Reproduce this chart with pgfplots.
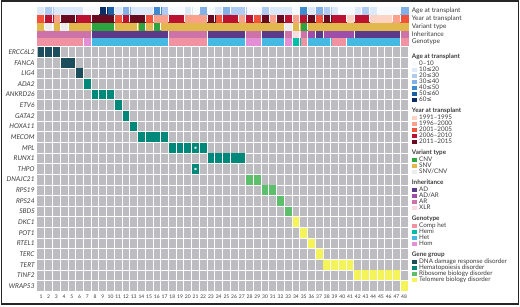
\documentclass[border=0pt]{standalone}
\usepackage{pgfplots}
\pgfplotsset{compat=1.18}
\usepackage{fontspec}
\setmainfont{Lato}
\newfontfamily\symfont{DejaVu Sans}
\definecolor{gridgray}{HTML}{BDBCC1}
\definecolor{txt}{HTML}{3A3A3A}
\definecolor{ag0}{HTML}{F7FBFF}
\definecolor{ag1}{HTML}{DCE9FA}
\definecolor{ag2}{HTML}{AECCF2}
\definecolor{ag3}{HTML}{82B1E6}
\definecolor{ag4}{HTML}{3E8BD0}
\definecolor{ag5}{HTML}{1A5FA6}
\definecolor{ag6}{HTML}{0A2D66}
\definecolor{yr0}{HTML}{FDD3C4}
\definecolor{yr1}{HTML}{FBA08A}
\definecolor{yr2}{HTML}{F2513C}
\definecolor{yr3}{HTML}{BA1230}
\definecolor{yr4}{HTML}{6A0A20}
\definecolor{vt0}{HTML}{2CA53F}
\definecolor{vt1}{HTML}{E0B84C}
\definecolor{vt2}{HTML}{EDEDED}
\definecolor{ih0}{HTML}{5B3A8B}
\definecolor{ih1}{HTML}{9D4EAA}
\definecolor{ih2}{HTML}{CE72AA}
\definecolor{ih3}{HTML}{FADBDF}
\definecolor{gt0}{HTML}{F092A2}
\definecolor{gt1}{HTML}{00BFAA}
\definecolor{gt2}{HTML}{46B9E2}
\definecolor{gt3}{HTML}{E38FD8}
\definecolor{gg0}{HTML}{1C4D5C}
\definecolor{gg1}{HTML}{00897A}
\definecolor{gg2}{HTML}{5DBF6B}
\definecolor{gg3}{HTML}{F4F45A}
\pgfplotsset{
  trk/.style={forget plot, only marks, color=#1, mark=square*, mark size=3.75pt,
    mark options={xscale=1.03, yscale=0.915, draw=#1, fill=#1, line width=0.1pt}},
  sep/.style={forget plot, only marks, mark=|, mark size=3.55pt, white,
    mark options={line width=0.7pt}},
  cell/.style={forget plot, only marks, color=#1, mark=square*, mark size=3.42pt,
    mark options={yscale=1.425, fill=#1, draw opacity=0}},
  sq/.style={legend image code/.code={\fill[##1, draw=none] (0pt,-2.4pt) rectangle (4.8pt,2.4pt);}},
}
\begin{document}
\begin{tikzpicture}
\path[use as bounding box] (0,0) rectangle (520pt,307pt);
% ---------------- annotation tracks
\begin{axis}[
  at={(37.1pt,261.1pt)}, anchor=south west,
  scale only axis, width=370.9pt, height=39.3pt,
  xmin=0.5, xmax=48.5, ymin=0.5, ymax=5.5, y dir=reverse,
  axis line style={draw=none}, major tick length=0pt, xtick=\empty,
  ytick={1,2,3,4,5},
  yticklabels={Age at transplant, Year at transplant, Variant type, Inheritance, Genotype},
  yticklabel pos=right,
  yticklabel style={font=\fontsize{6.5}{7}\selectfont, text=txt, anchor=west, inner sep=0pt, xshift=3.6pt},
]
% Age at transplant
\addplot[trk=ag0] coordinates {(7,1) (8,1) (18,1) (19,1) (21,1) (23,1) (28,1) (29,1) (34,1) (40,1) (41,1) (45,1) (46,1) (47,1)};
\addplot[trk=ag1] coordinates {(1,1) (3,1) (4,1) (5,1) (6,1) (11,1) (13,1) (14,1) (15,1) (20,1) (24,1) (31,1) (32,1) (33,1) (36,1) (39,1) (42,1) (44,1)};
\addplot[trk=ag2] coordinates {(2,1) (17,1) (26,1) (27,1) (30,1) (38,1) (43,1)};
\addplot[trk=ag3] coordinates {(12,1) (22,1) (25,1) (37,1) (48,1)};
\addplot[trk=ag4] coordinates {(16,1) (35,1)};
\addplot[trk=ag5] coordinates {(10,1)};
\addplot[trk=ag6] coordinates {(9,1)};
% Year at transplant
\addplot[trk=yr0] coordinates {(41,2) (44,2) (45,2) (46,2)};
\addplot[trk=yr1] coordinates {(3,2) (16,2) (17,2) (20,2) (21,2) (22,2) (27,2) (31,2) (34,2) (47,2)};
\addplot[trk=yr2] coordinates {(1,2) (11,2) (15,2) (24,2) (29,2) (37,2) (48,2)};
\addplot[trk=yr3] coordinates {(2,2) (6,2) (7,2) (12,2) (18,2) (19,2) (25,2) (26,2) (28,2) (33,2) (35,2) (39,2) (40,2) (42,2) (43,2)};
\addplot[trk=yr4] coordinates {(4,2) (5,2) (8,2) (9,2) (10,2) (13,2) (14,2) (23,2) (30,2) (32,2) (36,2) (38,2)};
% Variant type
\addplot[trk=vt0] coordinates {(8,3) (9,3) (10,3) (14,3) (16,3) (35,3)};
\addplot[trk=vt1] coordinates {(1,3) (3,3) (5,3) (6,3) (7,3) (11,3) (12,3) (13,3) (15,3) (17,3) (18,3) (19,3) (20,3) (21,3) (22,3) (23,3) (24,3) (25,3) (26,3) (27,3) (28,3) (29,3) (30,3) (31,3) (32,3) (34,3) (36,3) (37,3) (38,3) (39,3) (40,3) (41,3) (42,3) (43,3) (44,3) (45,3) (46,3) (47,3) (48,3)};
\addplot[trk=vt2] coordinates {(2,3) (4,3) (33,3)};
% Inheritance
\addplot[trk=ih0] coordinates {(8,4) (9,4) (10,4) (11,4) (12,4) (13,4) (14,4) (15,4) (16,4) (17,4) (23,4) (24,4) (25,4) (26,4) (27,4) (30,4) (31,4) (32,4) (37,4) (42,4) (43,4) (44,4) (45,4) (46,4) (47,4)};
\addplot[trk=ih1] coordinates {(36,4) (38,4) (39,4) (40,4) (41,4)};
\addplot[trk=ih2] coordinates {(1,4) (2,4) (3,4) (4,4) (5,4) (6,4) (7,4) (18,4) (19,4) (20,4) (21,4) (22,4) (28,4) (29,4) (33,4) (35,4) (48,4)};
\addplot[trk=ih3] coordinates {(34,4)};
% Genotype
\addplot[trk=gt0] coordinates {(1,5) (2,5) (3,5) (4,5) (5,5) (6,5) (18,5) (19,5) (20,5) (21,5) (22,5) (35,5) (39,5) (40,5) (48,5)};
\addplot[trk=gt1] coordinates {(34,5)};
\addplot[trk=gt2] coordinates {(8,5) (9,5) (10,5) (11,5) (12,5) (13,5) (14,5) (15,5) (16,5) (17,5) (23,5) (24,5) (25,5) (26,5) (27,5) (30,5) (31,5) (32,5) (36,5) (37,5) (38,5) (41,5) (42,5) (43,5) (44,5) (45,5) (46,5) (47,5)};
\addplot[trk=gt3] coordinates {(7,5) (28,5) (29,5) (33,5)};
% thin white separators where a track changes value
\addplot[sep] coordinates {(1.5,1) (2.5,1) (6.5,1) (8.5,1) (9.5,1) (10.5,1) (11.5,1) (12.5,1) (15.5,1) (16.5,1) (17.5,1) (19.5,1) (20.5,1) (21.5,1) (22.5,1) (23.5,1) (24.5,1) (25.5,1) (27.5,1) (29.5,1) (30.5,1) (33.5,1) (34.5,1) (35.5,1) (36.5,1) (37.5,1) (38.5,1) (39.5,1) (41.5,1) (42.5,1) (43.5,1) (44.5,1) (47.5,1)};
\addplot[sep] coordinates {(1.5,2) (2.5,2) (3.5,2) (5.5,2) (7.5,2) (10.5,2) (11.5,2) (12.5,2) (14.5,2) (15.5,2) (17.5,2) (19.5,2) (22.5,2) (23.5,2) (24.5,2) (26.5,2) (27.5,2) (28.5,2) (29.5,2) (30.5,2) (31.5,2) (32.5,2) (33.5,2) (34.5,2) (35.5,2) (36.5,2) (37.5,2) (38.5,2) (40.5,2) (41.5,2) (43.5,2) (46.5,2) (47.5,2)};
\addplot[sep] coordinates {(1.5,3) (2.5,3) (3.5,3) (4.5,3) (7.5,3) (10.5,3) (13.5,3) (14.5,3) (15.5,3) (16.5,3) (32.5,3) (33.5,3) (34.5,3) (35.5,3)};
\addplot[sep] coordinates {(7.5,4) (17.5,4) (22.5,4) (27.5,4) (29.5,4) (32.5,4) (33.5,4) (34.5,4) (35.5,4) (36.5,4) (37.5,4) (41.5,4) (47.5,4)};
\addplot[sep] coordinates {(6.5,5) (7.5,5) (17.5,5) (22.5,5) (27.5,5) (29.5,5) (32.5,5) (33.5,5) (34.5,5) (35.5,5) (38.5,5) (40.5,5) (47.5,5)};
\end{axis}
% ---------------- gene grid
\begin{axis}[
  at={(37.1pt,15.7pt)}, anchor=south west,
  scale only axis, width=370.9pt, height=244.6pt,
  xmin=0.5, xmax=48.5, ymin=0.5, ymax=23.5, y dir=reverse,
  axis background/.style={fill=gridgray},
  axis line style={draw=none}, major tick length=0pt, minor tick length=0pt,
  xtick={1,...,48}, ytick={1,...,23},
  yticklabels={ERCC6L2,FANCA,LIG4,ADA2,ANKRD26,ETV6,GATA2,HOXA11,MECOM,MPL,RUNX1,THPO,DNAJC21,RPS19,RPS24,SBDS,DKC1,POT1,RTEL1,TERC,TERT,TINF2,WRAP53},
  yticklabel style={font=\fontsize{6.6}{7}\selectfont\itshape, text=txt, inner sep=0pt, xshift=-2.3pt},
  xticklabel style={font=\fontsize{5}{5}\selectfont, text=txt, inner sep=0pt, yshift=-3.2pt},
  /pgf/number format/assume math mode=true,
  minor xtick={1.5,2.5,...,47.5}, minor ytick={1.5,2.5,...,22.5},
  xminorgrids, yminorgrids, minor grid style={white, line width=0.9pt},
  axis on top,
  legend cell align=left,
  legend style={at={(1,1)}, anchor=north west, xshift=3.7pt, yshift=-7.6pt,
    draw=none, fill=none, inner sep=0pt, row sep=1pt, column sep=1.5pt,
    font=\fontsize{6.3}{6}\selectfont,
    nodes={inner xsep=1pt, inner ysep=0pt, text height=4pt, text depth=1pt, text=txt}},
]
\addlegendimage{empty legend}\addlegendentry[text depth=2pt]{\hspace*{-7.3pt}\textbf{Age at transplant}}
\addlegendimage{sq, fill=ag0}\addlegendentry{0–10}
\addlegendimage{sq, fill=ag1}\addlegendentry{10{\symfont ≤}20}
\addlegendimage{sq, fill=ag2}\addlegendentry{20{\symfont ≤}30}
\addlegendimage{sq, fill=ag3}\addlegendentry{30{\symfont ≤}40}
\addlegendimage{sq, fill=ag4}\addlegendentry{40{\symfont ≤}50}
\addlegendimage{sq, fill=ag5}\addlegendentry{50{\symfont ≤}60}
\addlegendimage{sq, fill=ag6}\addlegendentry{60{\symfont ≤}}
\addlegendimage{empty legend}\addlegendentry[text height=2.5pt, text depth=1.5pt]{}
\addlegendimage{empty legend}\addlegendentry[text depth=2pt]{\hspace*{-7.3pt}\textbf{Year at transplant}}
\addlegendimage{sq, fill=yr0}\addlegendentry{1991–1995}
\addlegendimage{sq, fill=yr1}\addlegendentry{1996–2000}
\addlegendimage{sq, fill=yr2}\addlegendentry{2001–2005}
\addlegendimage{sq, fill=yr3}\addlegendentry{2006–2010}
\addlegendimage{sq, fill=yr4}\addlegendentry{2011–2015}
\addlegendimage{empty legend}\addlegendentry[text height=2.5pt, text depth=1.5pt]{}
\addlegendimage{empty legend}\addlegendentry[text depth=2pt]{\hspace*{-7.3pt}\textbf{Variant type}}
\addlegendimage{sq, fill=vt0}\addlegendentry{CNV}
\addlegendimage{sq, fill=vt1}\addlegendentry{SNV}
\addlegendimage{sq, fill=vt2}\addlegendentry{SNV/CNV}
\addlegendimage{empty legend}\addlegendentry[text height=2.5pt, text depth=1.5pt]{}
\addlegendimage{empty legend}\addlegendentry[text depth=2pt]{\hspace*{-7.3pt}\textbf{Inheritance}}
\addlegendimage{sq, fill=ih0}\addlegendentry{AD}
\addlegendimage{sq, fill=ih1}\addlegendentry{AD/AR}
\addlegendimage{sq, fill=ih2}\addlegendentry{AR}
\addlegendimage{sq, fill=ih3}\addlegendentry{XLR}
\addlegendimage{empty legend}\addlegendentry[text height=2.5pt, text depth=1.5pt]{}
\addlegendimage{empty legend}\addlegendentry[text depth=2pt]{\hspace*{-7.3pt}\textbf{Genotype}}
\addlegendimage{sq, fill=gt0}\addlegendentry{Comp het}
\addlegendimage{sq, fill=gt1}\addlegendentry{Hemi}
\addlegendimage{sq, fill=gt2}\addlegendentry{Het}
\addlegendimage{sq, fill=gt3}\addlegendentry{Hom}
\addlegendimage{empty legend}\addlegendentry[text height=2.5pt, text depth=1.5pt]{}
\addlegendimage{empty legend}\addlegendentry[text depth=2pt]{\hspace*{-7.3pt}\textbf{Gene group}}
\addlegendimage{sq, fill=gg0}\addlegendentry{DNA damage response disorder}
\addlegendimage{sq, fill=gg1}\addlegendentry{Hematopoiesis disorder}
\addlegendimage{sq, fill=gg2}\addlegendentry{Ribosome biology disorder}
\addlegendimage{sq, fill=gg3}\addlegendentry{Telomere biology disorder}
% DNA damage response
\addplot[cell=gg0] coordinates {(1,1) (2,1) (3,1) (4,2) (5,2) (6,3)};
% Hematopoiesis
\addplot[cell=gg1] coordinates {(7,4) (8,5) (9,5) (10,5) (11,6) (12,7) (13,8) (14,9) (15,9) (16,9) (17,9) (18,10) (19,10) (20,10) (21,10) (22,10) (23,11) (24,11) (25,11) (26,11) (27,11) (21,12)};
% Ribosome
\addplot[cell=gg2] coordinates {(28,13) (29,13) (30,14) (31,14) (32,15) (33,16)};
% Telomere
\addplot[cell=gg3] coordinates {(34,17) (35,18) (36,19) (37,20) (38,21) (39,21) (40,21) (41,21) (42,22) (43,22) (44,22) (45,22) (46,22) (47,22) (48,23)};
% stars
\addplot[forget plot, only marks, mark=asterisk, mark size=1.3pt, white, line width=0.45pt] coordinates {(21,10) (21,12)};
\end{axis}
\draw[line width=1.4pt, black!85] (1.2pt,3pt) rectangle (518.6pt,306pt);
\end{tikzpicture}
\end{document}
